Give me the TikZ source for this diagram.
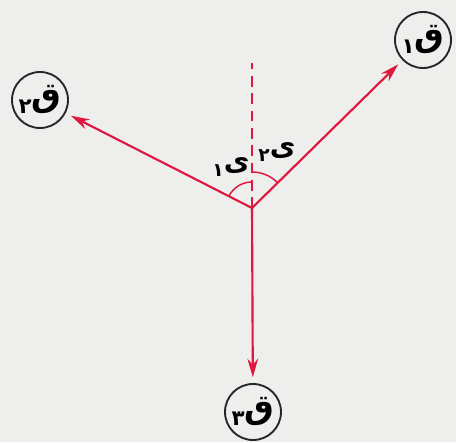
\documentclass[tikz,border=0pt]{standalone}
\usepackage{fontspec}
\newfontfamily\arabicfont[Script=Arabic]{DejaVu Sans}
\TeXXeTstate=1
\usetikzlibrary{arrows.meta}
\definecolor{forcered}{RGB}{222,24,62}
\definecolor{paper}{RGB}{238,238,236}
\newcommand{\qlabel}[1]{\arabicfont\bfseries\beginR ق\raisebox{-0.35ex}{\fontsize{16}{17}\selectfont #1}\endR}
\newcommand{\alabel}[1]{\arabicfont\bfseries\beginR ى\raisebox{-0.35ex}{\fontsize{14}{15}\selectfont #1}\endR}
\begin{document}
\begin{tikzpicture}[
    x=0.75pt, y=0.75pt,
    forcenode/.style={circle, draw=black!85, line width=1.4pt, fill=paper, minimum size=42pt, inner sep=0pt, outer sep=5pt, font=\fontsize{25}{26}\selectfont},
    forcearrow/.style={-{Stealth[length=14pt, width=8pt]}, line width=1.6pt, forcered},
    anglearc/.style={line width=1.1pt, forcered},
    anglelabel/.style={font=\fontsize{21}{22}\selectfont}
]
    % --- BACKGROUND ---
    \fill[paper] (0,0) rectangle (456,442);
    \useasboundingbox (0,0) rectangle (456,442);

    % --- POINT OF ACTION AND FORCES ---
    \coordinate (o) at (252,234);
    \coordinate (vtop) at (252,379);
    \node[forcenode] (q1) at (423,402) {\qlabel{١}};
    \node[forcenode] (q2) at (40,342) {\qlabel{٢}};
    \node[forcenode] (q3) at (253,30) {\qlabel{٣}};

    \draw[forcered, line width=1.4pt, dash pattern=on 8pt off 5pt] (o) -- (vtop);
    \draw[forcearrow] (o) -- (q1);
    \draw[forcearrow] (o) -- (q2);
    \draw[forcearrow] (o) -- (q3);

    % --- ANGLES ---
    \draw[anglearc] ([shift={(90:26)}]o) arc[start angle=90, end angle=152, radius=26];
    \draw[anglearc] ([shift={(45:36)}]o) arc[start angle=45, end angle=90, radius=36];
    \node[anglelabel] (a1) at (231,275) {\alabel{١}};
    \node[anglelabel] (a2) at (277,290) {\alabel{٢}};
\end{tikzpicture}
\end{document}
